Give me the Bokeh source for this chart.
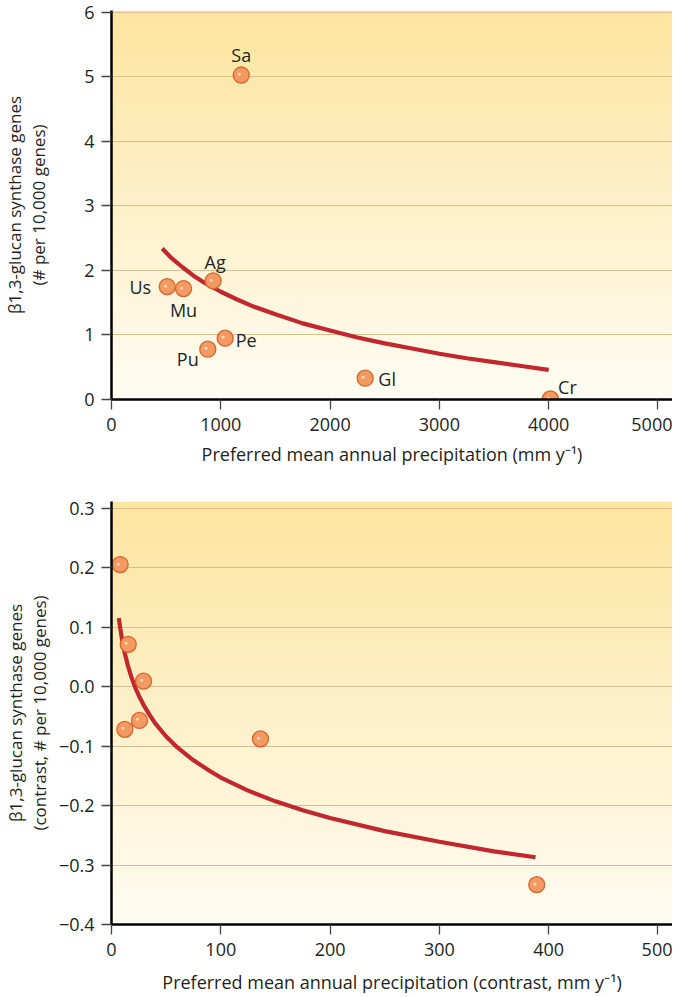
import numpy as np
from bokeh.plotting import figure
from bokeh.layouts import column
from bokeh.models import ColumnDataSource, FixedTicker, CustomJSTickFormatter, Range1d
from bokeh.core.properties import value
from bokeh.embed import file_html
from bokeh.resources import INLINE

# ---------------- data ----------------
species = ["Sa", "Ag", "Us", "Mu", "Pe", "Pu", "Gl", "Cr"]
precip = [1187, 930, 510, 659, 1040, 881, 2321, 4016]
genes = [5.03, 1.84, 1.75, 1.72, 0.95, 0.78, 0.33, 0.01]

fit1_x = [464, 550, 650, 750, 850, 1000, 1150, 1300, 1500, 1750, 2000,
          2250, 2500, 2750, 3000, 3250, 3500, 3750, 4000]
fit1_y = [2.34, 2.19, 2.05, 1.92, 1.81, 1.67, 1.55, 1.44, 1.32, 1.18, 1.07,
          0.96, 0.87, 0.79, 0.71, 0.64, 0.58, 0.52, 0.46]

contrast_x = [7.9, 15.3, 29.3, 25.6, 12.2, 136.3, 389.1]
contrast_y = [0.205, 0.071, 0.009, -0.057, -0.072, -0.088, -0.333]

fit2_x = [6.7, 8, 10, 12, 15, 18, 22, 26, 30, 35, 40, 50, 60, 75, 90, 100,
          125, 150, 175, 200, 250, 300, 350, 388]
fit2_y = [0.115, 0.098, 0.075, 0.057, 0.035, 0.017, -0.003, -0.019, -0.033,
          -0.048, -0.062, -0.084, -0.102, -0.124, -0.142, -0.153, -0.175,
          -0.193, -0.208, -0.221, -0.243, -0.261, -0.277, -0.287]

x_ticks1 = [0, 1000, 2000, 3000, 4000, 5000]
y_ticks1 = [0, 1, 2, 3, 4, 5, 6]
x_ticks2 = [0, 100, 200, 300, 400, 500]
y_ticks2 = [-0.4, -0.3, -0.2, -0.1, 0.0, 0.1, 0.2, 0.3]

xlabel1 = "Preferred mean annual precipitation (mm y\u207B\u00B9)"
ylabel1 = "\u03B21,3-glucan synthase genes\n(# per 10,000 genes)"
xlabel2 = "Preferred mean annual precipitation (contrast, mm y\u207B\u00B9)"
ylabel2 = "\u03B21,3-glucan synthase genes\n(contrast, # per 10,000 genes)"

# label placement (screen pixel offsets) for the species names
label_dx = [0, 2, -27, 0, 21, -20, 22, 17]
label_dy = [-20, -19, 0, 21, 2, 10, 1, -12]

# ---------------- styling ----------------
FONT = "Open Sans"
TXT = "#231f20"
GRID = "#d9bf8c"
RED = "#c1272d"
PT_FILL = "#f39a62"
PT_LINE = "#d8652b"
TOP_COL = (253, 229, 160)
BOT_COL = (255, 253, 243)


def add_gradient(p, x0, x1, y0, y1):
    n = 256
    t = np.linspace(0.0, 1.0, n)  # bottom -> top
    img = np.zeros((n, 1), dtype=np.uint32)
    view = img.view(dtype=np.uint8).reshape((n, 1, 4))
    for k in range(3):
        view[:, 0, k] = (BOT_COL[k] + (TOP_COL[k] - BOT_COL[k]) * t).astype(np.uint8)
    view[:, 0, 3] = 255
    r = p.image_rgba(image=[img], x=x0, y=y0, dw=x1 - x0, dh=y1 - y0)
    r.level = "image"


def style(p, xticks, yticks, xlabel, ylabel, xstand, ystand):
    p.outline_line_color = None
    p.background_fill_color = "white"
    p.border_fill_color = "white"
    p.xgrid.grid_line_color = None
    p.ygrid.grid_line_color = GRID
    p.ygrid.grid_line_width = 1.2
    p.xaxis.ticker = FixedTicker(ticks=xticks)
    p.yaxis.ticker = FixedTicker(ticks=yticks)
    for ax in (p.xaxis[0], p.yaxis[0]):
        ax.axis_line_color = "black"
        ax.axis_line_width = 2.5
        ax.major_tick_in = 0
        ax.major_tick_out = 10
        ax.major_tick_line_color = "#444444"
        ax.major_tick_line_width = 1.3
        ax.minor_tick_line_color = None
        ax.major_label_text_font = FONT
        ax.major_label_text_font_size = "18px"
        ax.major_label_text_color = TXT
        ax.axis_label_text_font = FONT
        ax.axis_label_text_font_style = "normal"
        ax.axis_label_text_color = TXT
    p.xaxis.major_label_standoff = 8
    p.yaxis.major_label_standoff = 7
    p.xaxis.axis_label = xlabel
    p.yaxis.axis_label = ylabel
    p.xaxis.axis_label_text_font_size = "18px"
    p.yaxis.axis_label_text_font_size = "17px"
    p.xaxis.axis_label_standoff = xstand
    p.yaxis.axis_label_standoff = ystand
    p.yaxis.axis_label_text_line_height = 1.05


def add_points(p, src):
    p.scatter("x", "y", source=src, size=16, fill_color=PT_FILL,
              line_color=PT_LINE, line_width=1.3)
    p.text("x", "y", text=value("\u25CF"), source=src, x_offset=-2, y_offset=-1.5,
           text_color="#fde3cc", text_alpha=0.85, text_font_size="7px",
           text_align="center", text_baseline="middle")


# ---------------- top figure ----------------
X1_END = 5133
Y1_END = 6.03
p1 = figure(frame_width=561, frame_height=389, output_backend="svg",
            toolbar_location=None,
            x_range=Range1d(0, X1_END), y_range=Range1d(0, Y1_END),
            min_border_left=111, min_border_right=0, min_border_top=10,
            min_border_bottom=66)
add_gradient(p1, 0, X1_END, 0, Y1_END)
style(p1, x_ticks1, y_ticks1, xlabel1, ylabel1, 8, 31)
p1.line(fit1_x, fit1_y, line_color=RED, line_width=4.2)
src1 = ColumnDataSource(dict(x=precip, y=genes, name=species,
                             dx=label_dx, dy=label_dy))
add_points(p1, src1)
p1.text("x", "y", text="name", source=src1, x_offset="dx", y_offset="dy",
        text_font=value(FONT), text_font_size="18px", text_color=TXT,
        text_align="center", text_baseline="middle")

# ---------------- bottom figure ----------------
X2_END = 513.3
Y2_START, Y2_END = -0.4, 0.311
p2 = figure(frame_width=561, frame_height=423, output_backend="svg",
            toolbar_location=None,
            x_range=Range1d(0, X2_END), y_range=Range1d(Y2_START, Y2_END),
            min_border_left=111, min_border_right=0, min_border_top=33,
            min_border_bottom=68)
add_gradient(p2, 0, X2_END, Y2_START, Y2_END)
style(p2, x_ticks2, y_ticks2, xlabel2, ylabel2, 11, 5)
p2.yaxis.formatter = CustomJSTickFormatter(
    code="return tick.toFixed(1).replace('-', '\u2212');")
p2.line(fit2_x, fit2_y, line_color=RED, line_width=4.2)
src2 = ColumnDataSource(dict(x=contrast_x, y=contrast_y))
add_points(p2, src2)

layout = column(p1, p2, spacing=0)
open("out.html", "w").write(file_html(layout, INLINE))
